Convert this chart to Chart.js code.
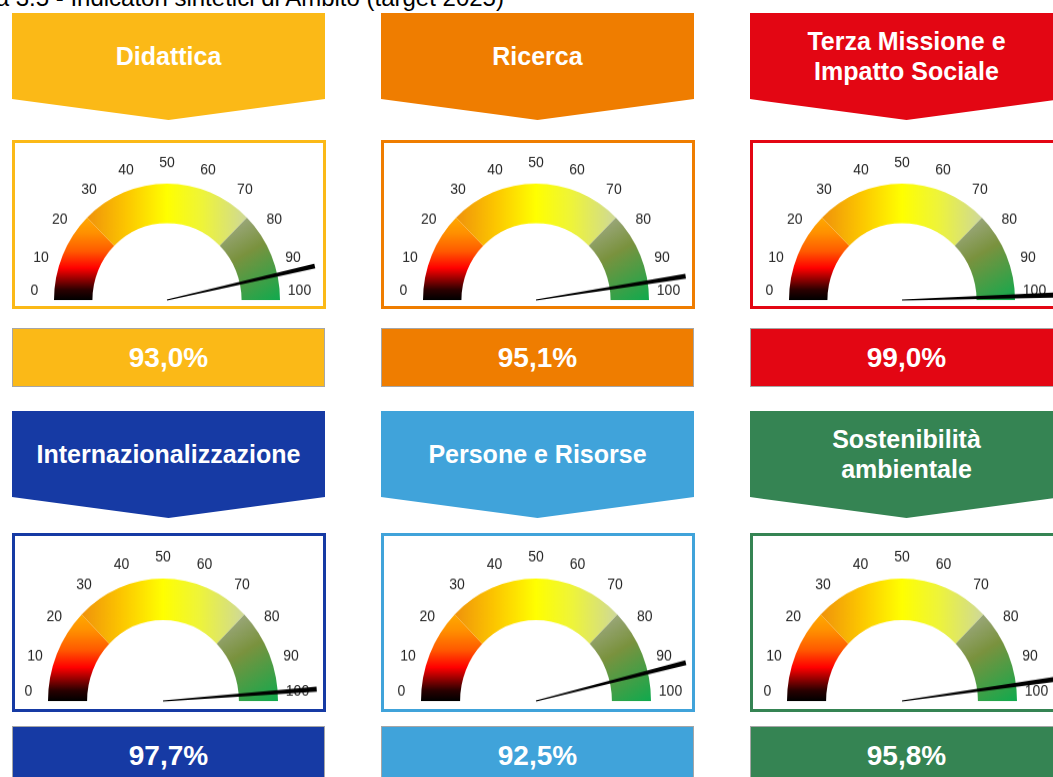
<!DOCTYPE html>
<html>
<head>
<meta charset="utf-8">
<script src="https://cdn.jsdelivr.net/npm/chart.js@4"></script>
<style>
  body { margin: 0; width: 1053px; height: 777px; overflow: hidden; background: #fff;
         font-family: "Liberation Sans", Arial, sans-serif; position: relative; }
  .title { position: absolute; top: -14px; left: -59px; font-size: 24px; line-height: 24px;
           white-space: nowrap; color: #000; }
  .head { position: absolute; width: 313px; height: 107px;
          clip-path: polygon(0 0, 100% 0, 100% 80.4%, 50% 100%, 0 80.4%); }
  .head div { height: 86px; display: flex; align-items: center; justify-content: center;
              text-align: center; color: #fff; font-weight: bold; font-size: 25px;
              line-height: 30px; white-space: pre-line; }
  .box { position: absolute; width: 308px; border: 3px solid; background: #fff; }
  .val { position: absolute; width: 311px; height: 57px; border: 1px solid #a6a6a6;
         color: #fff; font-weight: bold; font-size: 28px; display: flex;
         align-items: center; justify-content: center; }
  canvas { position: absolute; }
</style>
</head>
<body>
<div class="title">Figura 3.5 - Indicatori sintetici di Ambito (target 2025)</div>

<script>
// DATA ------------------------------------------------------

const ambiti = ["Didattica", "Ricerca", "Terza Missione e\nImpatto Sociale",
                "Internazionalizzazione", "Persone e Risorse", "Sostenibilità\nambientale"];
const valori = [93.0, 95.1, 99.0, 97.7, 92.5, 95.8];
const colori = ["#fbb917", "#ef7d00", "#e30613", "#163aa4", "#40a3da", "#358453"];
const tickLabels = [0, 10, 20, 30, 40, 50, 60, 70, 80, 90, 100];
const fasceLabels = ["Bassa", "Media", "Alta"];
const fasce = [25, 50, 25];

// LAYOUT ------------------------------------------------------

const colX = [12, 381, 750];
const gaugeDx = [[154.5, 154.5, 151.5], [150.5, 154.5, 151.5]];
const rowHead = [13, 411];
const rowBox = [140, 533];
const rowBoxH = [163, 173];
const rowVal = [328, 726];
const rowCy = [299.5, 701];
const rowR = [113, 115];
const rowSy = [1.03, 1.065];

const CW = 340, CH = 180, LX = 165, LY = 168;

// GAUGE FILLS ------------------------------------------------------

function segmentFill(context) {
    const chart = context.chart;
    const area = chart.chartArea;
    if (!area) return '#cccccc';
    const c = chart.ctx;
    const cx = (area.left + area.right) / 2;
    const cy = area.bottom;
    const r = (area.right - area.left) / 2;
    let g;
    if (context.dataIndex === 0) {
        g = c.createLinearGradient(0, cy, 0, cy - r * 0.72);
        g.addColorStop(0, '#000000');
        g.addColorStop(0.12, '#2a0000');
        g.addColorStop(0.38, '#ff0000');
        g.addColorStop(0.58, '#ff5a00');
        g.addColorStop(0.8, '#ff9000');
        g.addColorStop(1, '#ffac00');
    } else if (context.dataIndex === 1) {
        g = c.createLinearGradient(cx - r * 0.72, 0, cx + r * 0.72, 0);
        g.addColorStop(0, '#ef900c');
        g.addColorStop(0.25, '#fcc600');
        g.addColorStop(0.5, '#ffff00');
        g.addColorStop(0.72, '#eef43a');
        g.addColorStop(0.9, '#d9e277');
        g.addColorStop(1, '#cdd79e');
    } else {
        g = c.createLinearGradient(cx + r * 0.55, cy - r * 0.78, cx + r, cy);
        g.addColorStop(0, '#aab197');
        g.addColorStop(0.45, '#7a923e');
        g.addColorStop(1, '#10aa4e');
    }
    return g;
}

// tick labels + needle
const gaugeDecor = {
    id: 'gaugeDecor',
    afterDatasetsDraw(chart, args, opts) {
        const area = chart.chartArea;
        const c = chart.ctx;
        const cx = (area.left + area.right) / 2;
        const cy = area.bottom;
        const r = (area.right - area.left) / 2;
        const lr = r + 19.5;

        c.save();
        c.font = '14px "Liberation Sans", Arial, sans-serif';
        c.fillStyle = '#262626';
        c.textAlign = 'center';
        c.textBaseline = 'middle';
        tickLabels.forEach(t => {
            const a = Math.PI * (1 - t / 100);
            const x = cx + lr * Math.cos(a);
            const y = cy - Math.max(lr * Math.sin(a), 9);
            c.fillText(String(t), x, y);
        });

        const a = Math.PI * (1 - opts.value / 100);
        const len = r * 1.34;
        const ux = Math.cos(a), uy = -Math.sin(a);
        const px = -uy, py = ux;
        const tx = cx + ux * len, ty = cy + uy * len;
        c.fillStyle = '#000000';
        c.beginPath();
        c.moveTo(cx + px * 0.6, cy + py * 0.6);
        c.lineTo(tx + px * 2.4, ty + py * 2.4);
        c.lineTo(tx - px * 2.4, ty - py * 2.4);
        c.lineTo(cx - px * 0.6, cy - py * 0.6);
        c.closePath();
        c.fill();
        c.restore();
    }
};

// PANELS ------------------------------------------------------

ambiti.forEach((nome, i) => {
    const col = i % 3, row = Math.floor(i / 3);
    const x = colX[col];

    const head = document.createElement('div');
    head.className = 'head';
    head.style.left = x + 'px';
    head.style.top = rowHead[row] + 'px';
    head.style.background = colori[i];
    const txt = document.createElement('div');
    txt.textContent = nome;
    head.appendChild(txt);
    document.body.appendChild(head);

    const box = document.createElement('div');
    box.className = 'box';
    box.style.left = x + 'px';
    box.style.top = rowBox[row] + 'px';
    box.style.height = rowBoxH[row] + 'px';
    box.style.borderColor = colori[i];
    document.body.appendChild(box);

    const val = document.createElement('div');
    val.className = 'val';
    val.style.left = x + 'px';
    val.style.top = rowVal[row] + 'px';
    val.style.background = colori[i];
    val.textContent = valori[i].toFixed(1).replace('.', ',') + '%';
    document.body.appendChild(val);

    const cx = x + gaugeDx[row][col];
    const cy = rowCy[row];
    const r = rowR[row];
    const canvas = document.createElement('canvas');
    canvas.width = CW;
    canvas.height = CH;
    canvas.style.width = CW + 'px';
    canvas.style.height = CH + 'px';
    canvas.style.left = (cx - LX) + 'px';
    canvas.style.top = (cy - LY) + 'px';
    canvas.style.transformOrigin = LX + 'px ' + LY + 'px';
    canvas.style.transform = 'scale(1,' + rowSy[row] + ')';
    document.body.appendChild(canvas);

    new Chart(canvas, {
        type: 'doughnut',
        data: {
            labels: fasceLabels,
            datasets: [{
                data: fasce,
                backgroundColor: segmentFill,
                borderWidth: 0
            }]
        },
        options: {
            responsive: false,
            animation: false,
            events: [],
            rotation: -90,
            circumference: 180,
            cutout: '66%',
            layout: {
                padding: { left: LX - r, right: CW - LX - r, top: LY - r, bottom: CH - LY }
            },
            plugins: {
                legend: { display: false },
                tooltip: { enabled: false },
                gaugeDecor: { value: valori[i] }
            }
        },
        plugins: [gaugeDecor]
    });
});
</script>
</body>
</html>
